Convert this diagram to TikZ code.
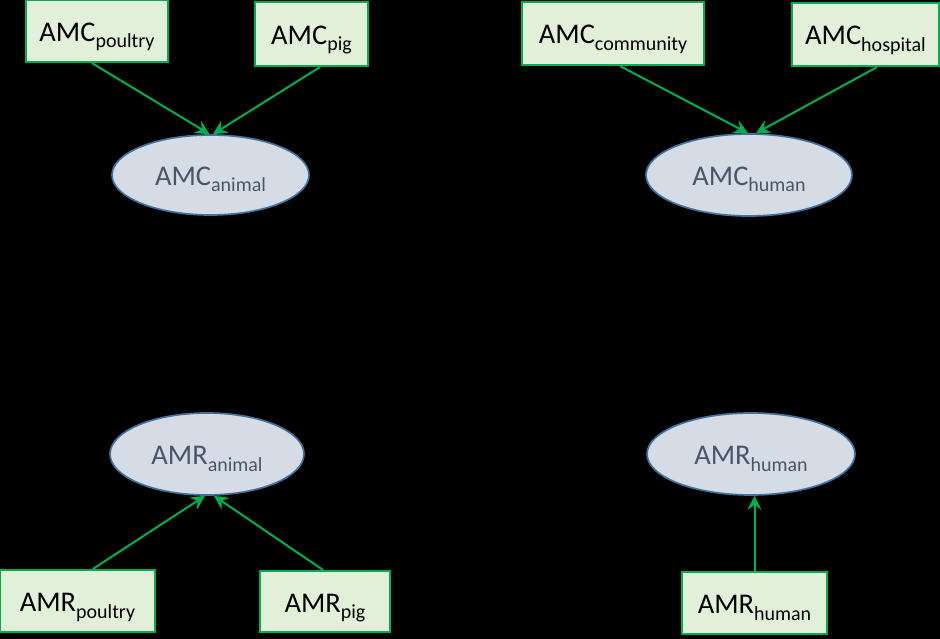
\documentclass[tikz,border=0pt]{standalone}
\usepackage{fontspec}
\setmainfont{Carlito}
\usetikzlibrary{arrows.meta,shapes.geometric}
\definecolor{boxfill}{HTML}{E2F0D9}
\definecolor{boxline}{HTML}{00B050}
\definecolor{ellfill}{HTML}{D6DCE5}
\definecolor{ellline}{HTML}{41719C}
\definecolor{elltext}{HTML}{4A5568}
\definecolor{arrowgreen}{HTML}{00B050}
\newcommand{\mylbl}[2]{#1\raisebox{-6.5pt}{\fontsize{20}{20}\selectfont #2}}
\tikzset{
  databox/.style={rectangle, draw=boxline, fill=boxfill, line width=2.2pt, inner sep=0pt,
    font=\fontsize{28.5}{28.5}\selectfont, text=black, text height=21pt, text depth=0pt},
  aggell/.style={ellipse, draw=ellline, fill=ellfill, line width=1.7pt, inner sep=0pt,
    font=\fontsize{28.5}{28.5}\selectfont, text=elltext, text height=21pt, text depth=0pt},
  arr/.style={draw=arrowgreen, line width=2pt, -{Stealth[length=14pt,width=14pt,inset=5pt]}}
}
\begin{document}
\begin{tikzpicture}[x=1pt,y=-1pt]
\useasboundingbox (0,0) rectangle (940,639);
\fill[black] (0,0) rectangle (940,639);
% top-left
\node[databox, minimum width=142pt, minimum height=62pt] (pp) at (97,31) {\mylbl{AMC}{poultry}};
\node[databox, minimum width=113pt, minimum height=64pt] (pg) at (311.5,34) {\mylbl{AMC}{pig}};
\node[aggell, minimum width=197pt, minimum height=80pt] (aa) at (210.5,175) {\mylbl{AMC}{animal}};
% top-right
\node[databox, minimum width=182pt, minimum height=63pt] (cm) at (613,33.5) {\mylbl{AMC}{community}};
\node[databox, minimum width=147pt, minimum height=63pt] (hs) at (865.5,34.5) {\mylbl{AMC}{hospital}};
\node[aggell, minimum width=206pt, minimum height=82pt] (ah) at (749,175) {\mylbl{AMC}{human}};
% bottom-left
\node[aggell, minimum width=194pt, minimum height=82pt] (ra) at (207,454) {\mylbl{AMR}{animal}};
\node[databox, minimum width=155pt, minimum height=62pt] (rp) at (77.5,601) {\mylbl{AMR}{poultry}};
\node[databox, minimum width=130pt, minimum height=61pt] (rg) at (325,601.5) {\mylbl{AMR}{pig}};
% bottom-right
\node[aggell, minimum width=208pt, minimum height=82pt] (rh) at (751,454) {\mylbl{AMR}{human}};
\node[databox, minimum width=145pt, minimum height=62pt] (rb) at (754.5,603) {\mylbl{AMR}{human}};
% connectors
\draw[arr] ([xshift=-5pt]pp.south) -- ([xshift=-1pt]aa.north);
\draw[arr] ([xshift=8.5pt]pg.south) -- ([xshift=2.5pt]aa.north);
\draw[arr] ([xshift=7pt]cm.south) -- ([xshift=-1pt]ah.north);
\draw[arr] ([xshift=11.5pt]hs.south) -- ([xshift=7pt]ah.north);
\draw[arr] ([xshift=15.5pt]rp.north) -- ([xshift=-2pt]ra.south);
\draw[arr] ([xshift=-2pt]rg.north) -- ([xshift=7pt]ra.south);
\draw[arr] (rb.north) -- ([xshift=3.5pt]rh.south);
\end{tikzpicture}
\end{document}
